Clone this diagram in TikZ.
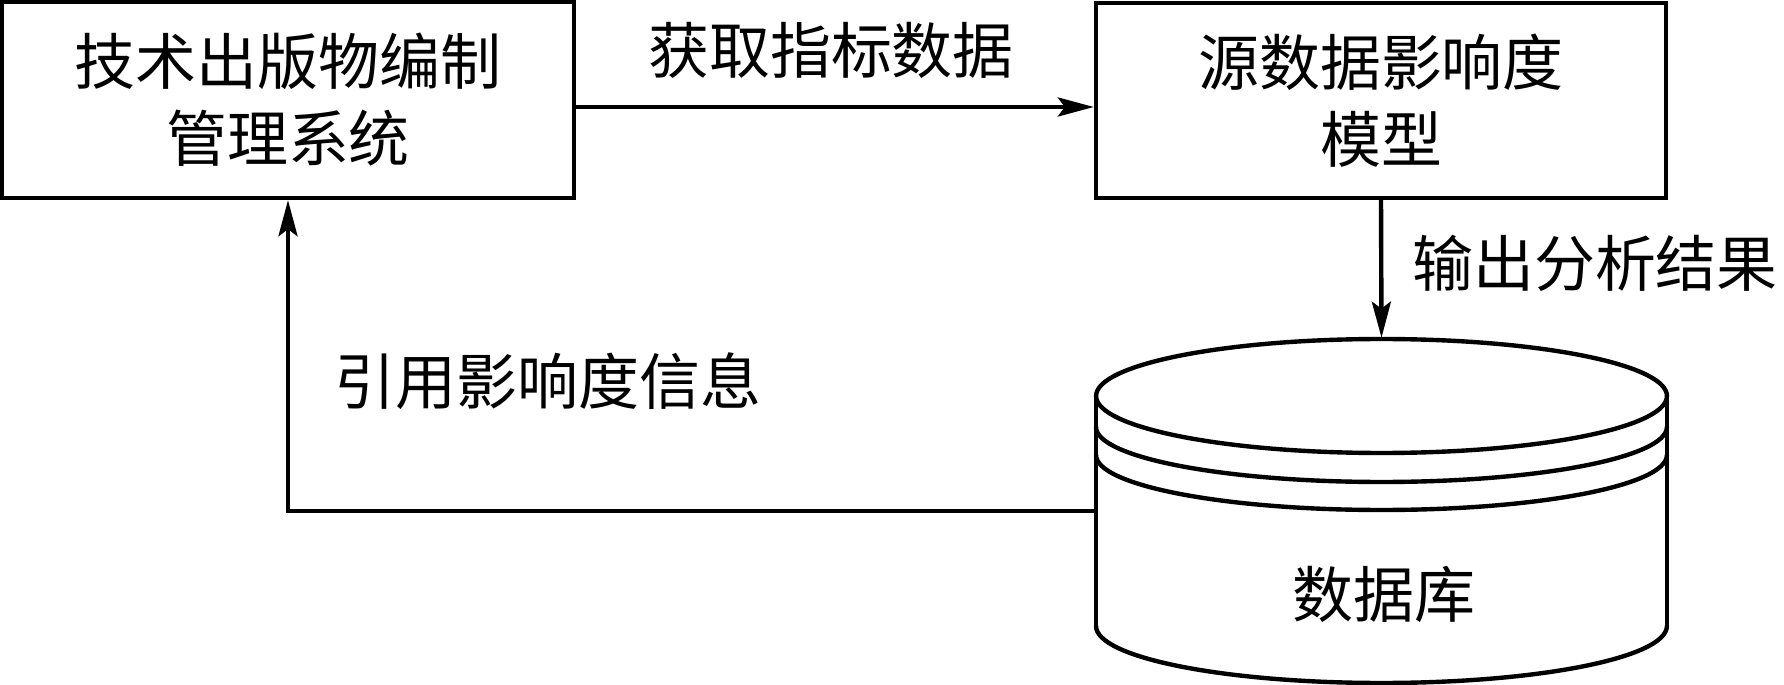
\documentclass[tikz,border=0pt]{standalone}
\usepackage{fontspec}
\newfontfamily\cjk{Noto Sans CJK SC}
\usetikzlibrary{arrows.meta}
\begin{document}
\begin{tikzpicture}[x=0.02cm, y=-0.02cm,
  every node/.style={font=\cjk\fontsize{34.7}{43.8}\selectfont, inner sep=0pt},
  boxnode/.style={draw, line width=2.5pt, align=center},
  lbl/.style={},
  conn/.style={line width=2.5pt, -{Stealth[length=0.72cm, width=0.38cm, inset=0.14cm]}},
  cyl/.style={line width=2.5pt}]
\useasboundingbox (0,0) rectangle (1784,685);
\fill[white] (0,0) rectangle (1784,685);

\node[boxnode, minimum width=11.44cm, minimum height=3.92cm] (b1) at (288,100) {技术出版物编制\\管理系统};
\node[boxnode, minimum width=11.40cm, minimum height=3.90cm] (b2) at (1381,100.5) {源数据影响度\\模型};
\node[minimum width=11.42cm, minimum height=6.92cm] (db) at (1381.5,511) {};

% cylinder
\draw[cyl] (1381.5,396) circle[x radius=5.71cm, y radius=1.14cm];
\draw[cyl] (1096,427) arc[start angle=180, end angle=360, x radius=5.71cm, y radius=1.1cm];
\draw[cyl] (1096,455) arc[start angle=180, end angle=360, x radius=5.71cm, y radius=1.1cm];
\draw[cyl] (1096,626) arc[start angle=180, end angle=360, x radius=5.71cm, y radius=1.14cm];
\draw[cyl] (1096,396) -- (1096,626);
\draw[cyl] (1667,396) -- (1667,626);
\node (dbl) at (1384,594) {数据库};

% connectors
\coordinate (a1) at (574,107);
\coordinate (a2) at (1096,107);
\draw[conn] (b1.east |- a1) -- (b2.west |- a2);
\draw[conn] (b2.south) -- (db.north);
\draw[conn] (db.west) -| (b1.south);

% labels
\node (l1) at (831,50) {获取指标数据};
\node (l2) at (1595,263) {输出分析结果};
\node (l3) at (548,381) {引用影响度信息};
\end{tikzpicture}
\end{document}
